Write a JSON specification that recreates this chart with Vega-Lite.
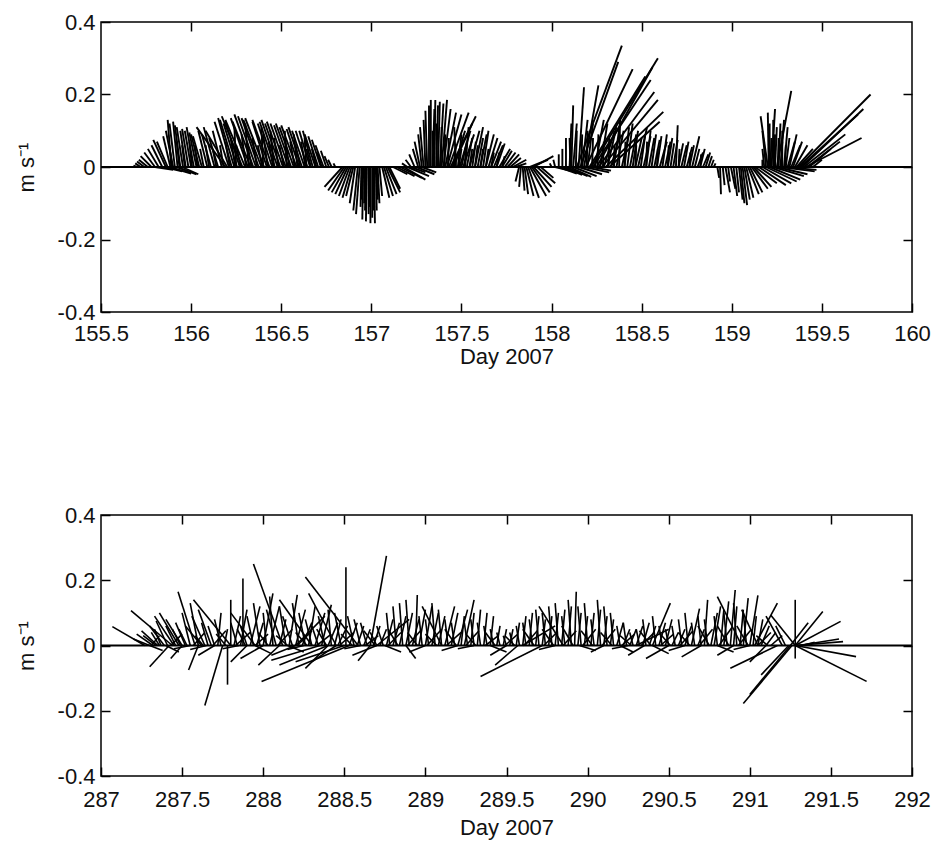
{
"$schema": "https://vega.github.io/schema/vega-lite/v6.json",
"padding": {"left": 14, "top": 10, "right": 20, "bottom": 5},
"config": {
 "view": {"stroke": "#000", "strokeWidth": 1.5},
 "font": "Liberation Sans",
 "axis": {"domain": false, "grid": false, "tickColor": "#000", "tickWidth": 1.5, "tickSize": 9, "offset": -9,
  "labelFlush": false, "labelOverlap": false,
  "labelFont": "Liberation Sans", "labelFontSize": 22, "labelColor": "#111", "labelPadding": 6,
  "titleFont": "Liberation Sans", "titleFontSize": 22, "titleFontWeight": "normal", "titleColor": "#111"}
},
"datasets": {
"top": [
{"t":155.70,"e":155.68,"v":0.004},{"t":155.72,"e":155.69,"v":0.01},{"t":155.74,"e":155.70,"v":0.015},{"t":155.76,"e":155.71,"v":0.02},{"t":155.78,"e":155.72,"v":0.03},{"t":155.80,"e":155.74,"v":0.04},{"t":155.82,"e":155.76,"v":0.05},{"t":155.84,"e":155.78,"v":0.06},{"t":155.86,"e":155.79,"v":0.075},{"t":155.87,"e":155.81,"v":0.07},
{"t":155.80,"e":155.90,"v":-0.008},{"t":155.85,"e":155.95,"v":-0.012},{"t":155.88,"e":156.00,"v":-0.018},{"t":155.92,"e":156.03,"v":-0.02},{"t":155.95,"e":156.04,"v":-0.02},
{"t":155.885,"e":155.845,"v":0.085},{"t":155.89,"e":155.87,"v":0.13},{"t":155.90,"e":155.86,"v":0.10},{"t":155.91,"e":155.88,"v":0.12},{"t":155.925,"e":155.90,"v":0.125},{"t":155.94,"e":155.91,"v":0.115},{"t":155.955,"e":155.92,"v":0.11},{"t":155.97,"e":155.94,"v":0.10},{"t":155.985,"e":155.95,"v":0.105},{"t":156.00,"e":155.965,"v":0.10},{"t":156.015,"e":155.975,"v":0.11},{"t":156.03,"e":155.99,"v":0.095},{"t":156.045,"e":156.00,"v":0.09},{"t":156.06,"e":156.01,"v":0.085},
{"t":155.895,"e":155.88,"v":0.06},{"t":155.935,"e":155.92,"v":0.07},{"t":155.965,"e":155.95,"v":0.06},{"t":156.005,"e":155.99,"v":0.07},{"t":156.035,"e":156.02,"v":0.06},{"t":156.07,"e":156.05,"v":0.05},{"t":156.10,"e":156.08,"v":0.06},{"t":156.14,"e":156.12,"v":0.05},{"t":156.18,"e":156.16,"v":0.06},
{"t":156.09,"e":156.04,"v":0.10},{"t":156.11,"e":156.06,"v":0.09},{"t":156.13,"e":156.07,"v":0.11},{"t":156.15,"e":156.10,"v":0.08},{"t":156.17,"e":156.12,"v":0.10},{"t":156.19,"e":156.03,"v":0.11},{"t":156.20,"e":156.08,"v":0.10},
{"t":156.21,"e":156.13,"v":0.125},{"t":156.225,"e":156.15,"v":0.135},{"t":156.24,"e":156.16,"v":0.13},{"t":156.255,"e":156.18,"v":0.12},{"t":156.27,"e":156.19,"v":0.125},{"t":156.285,"e":156.17,"v":0.14},{"t":156.30,"e":156.19,"v":0.13},{"t":156.315,"e":156.22,"v":0.135},{"t":156.33,"e":156.23,"v":0.125},{"t":156.345,"e":156.24,"v":0.145},{"t":156.36,"e":156.26,"v":0.14},{"t":156.375,"e":156.28,"v":0.135},{"t":156.39,"e":156.29,"v":0.13},{"t":156.405,"e":156.30,"v":0.135},{"t":156.42,"e":156.34,"v":0.125},{"t":156.435,"e":156.34,"v":0.13},{"t":156.45,"e":156.37,"v":0.12},{"t":156.465,"e":156.38,"v":0.125},{"t":156.48,"e":156.39,"v":0.13},{"t":156.495,"e":156.41,"v":0.12},{"t":156.51,"e":156.42,"v":0.125},{"t":156.525,"e":156.44,"v":0.12},{"t":156.54,"e":156.46,"v":0.115},{"t":156.555,"e":156.47,"v":0.12},{"t":156.57,"e":156.49,"v":0.11},{"t":156.585,"e":156.50,"v":0.115},{"t":156.60,"e":156.53,"v":0.105},{"t":156.615,"e":156.54,"v":0.11},{"t":156.63,"e":156.56,"v":0.10},{"t":156.645,"e":156.58,"v":0.10},{"t":156.66,"e":156.60,"v":0.10},{"t":156.675,"e":156.62,"v":0.10},{"t":156.69,"e":156.63,"v":0.09},{"t":156.705,"e":156.65,"v":0.085},{"t":156.72,"e":156.67,"v":0.075},{"t":156.735,"e":156.69,"v":0.06},{"t":156.75,"e":156.72,"v":0.045},{"t":156.765,"e":156.74,"v":0.03},{"t":156.78,"e":156.76,"v":0.02},{"t":156.80,"e":156.79,"v":0.01},
{"t":156.25,"e":156.24,"v":0.11},{"t":156.32,"e":156.30,"v":0.12},{"t":156.40,"e":156.39,"v":0.11},{"t":156.46,"e":156.44,"v":0.10},{"t":156.53,"e":156.52,"v":0.10},{"t":156.59,"e":156.57,"v":0.09},{"t":156.64,"e":156.63,"v":0.08},
{"t":156.215,"e":156.19,"v":0.07},{"t":156.245,"e":156.22,"v":0.08},{"t":156.275,"e":156.25,"v":0.06},{"t":156.305,"e":156.28,"v":0.09},{"t":156.335,"e":156.31,"v":0.07},{"t":156.365,"e":156.34,"v":0.08},{"t":156.395,"e":156.37,"v":0.06},{"t":156.425,"e":156.40,"v":0.09},{"t":156.455,"e":156.43,"v":0.07},{"t":156.485,"e":156.46,"v":0.08},{"t":156.515,"e":156.49,"v":0.06},{"t":156.545,"e":156.52,"v":0.08},{"t":156.575,"e":156.55,"v":0.07},{"t":156.605,"e":156.58,"v":0.06},{"t":156.635,"e":156.61,"v":0.07},{"t":156.665,"e":156.64,"v":0.05},{"t":156.695,"e":156.67,"v":0.05},{"t":156.725,"e":156.70,"v":0.04},
{"t":156.84,"e":156.74,"v":-0.055},{"t":156.85,"e":156.76,"v":-0.065},{"t":156.86,"e":156.78,"v":-0.07},{"t":156.87,"e":156.80,"v":-0.075},{"t":156.88,"e":156.82,"v":-0.08},{"t":156.89,"e":156.84,"v":-0.085},{"t":156.90,"e":156.86,"v":-0.08},{"t":156.91,"e":156.88,"v":-0.10},{"t":156.925,"e":156.90,"v":-0.12},{"t":156.935,"e":156.915,"v":-0.13},{"t":156.945,"e":156.94,"v":-0.11},{"t":156.955,"e":156.95,"v":-0.145},{"t":156.965,"e":156.96,"v":-0.10},{"t":156.975,"e":156.97,"v":-0.15},{"t":156.985,"e":156.985,"v":-0.13},{"t":156.995,"e":156.995,"v":-0.155},{"t":157.005,"e":157.005,"v":-0.14},{"t":157.015,"e":157.02,"v":-0.155},{"t":157.025,"e":157.03,"v":-0.12},{"t":157.035,"e":157.045,"v":-0.10},{"t":157.045,"e":157.06,"v":-0.08},{"t":157.06,"e":157.10,"v":-0.085},{"t":157.07,"e":157.12,"v":-0.08},{"t":157.08,"e":157.14,"v":-0.075},{"t":157.09,"e":157.16,"v":-0.07},{"t":157.10,"e":157.16,"v":-0.06},
{"t":156.95,"e":156.945,"v":-0.09},{"t":156.97,"e":156.965,"v":-0.12},{"t":156.99,"e":156.99,"v":-0.11},{"t":157.01,"e":157.01,"v":-0.12},{"t":157.03,"e":157.035,"v":-0.09},
{"t":157.12,"e":157.20,"v":-0.02},{"t":157.14,"e":157.24,"v":-0.025},{"t":157.16,"e":157.28,"v":-0.03},{"t":157.18,"e":157.30,"v":-0.035},{"t":157.20,"e":157.32,"v":-0.025},{"t":157.22,"e":157.30,"v":-0.015},{"t":157.25,"e":157.35,"v":-0.02},{"t":157.28,"e":157.36,"v":-0.015},
{"t":157.20,"e":157.17,"v":0.01},{"t":157.22,"e":157.19,"v":0.02},{"t":157.24,"e":157.21,"v":0.035},{"t":157.26,"e":157.23,"v":0.05},{"t":157.27,"e":157.24,"v":0.07},{"t":157.28,"e":157.26,"v":0.09},{"t":157.29,"e":157.27,"v":0.11},{"t":157.30,"e":157.29,"v":0.13},{"t":157.31,"e":157.30,"v":0.155},{"t":157.32,"e":157.32,"v":0.17},{"t":157.33,"e":157.33,"v":0.185},{"t":157.34,"e":157.35,"v":0.16},{"t":157.35,"e":157.355,"v":0.185},{"t":157.36,"e":157.37,"v":0.17},{"t":157.37,"e":157.38,"v":0.18},{"t":157.38,"e":157.40,"v":0.175},{"t":157.39,"e":157.42,"v":0.185},{"t":157.40,"e":157.44,"v":0.16},{"t":157.41,"e":157.47,"v":0.15},{"t":157.42,"e":157.50,"v":0.145},{"t":157.43,"e":157.54,"v":0.15},{"t":157.44,"e":157.58,"v":0.14},{"t":157.45,"e":157.56,"v":0.12},{"t":157.46,"e":157.52,"v":0.10},{"t":157.47,"e":157.46,"v":0.11},{"t":157.48,"e":157.50,"v":0.09},{"t":157.49,"e":157.55,"v":0.10},{"t":157.50,"e":157.53,"v":0.07},{"t":157.51,"e":157.57,"v":0.09},{"t":157.52,"e":157.54,"v":0.11},{"t":157.53,"e":157.56,"v":0.08},{"t":157.545,"e":157.60,"v":0.10},{"t":157.56,"e":157.58,"v":0.07},{"t":157.575,"e":157.62,"v":0.11},{"t":157.59,"e":157.62,"v":0.08},{"t":157.605,"e":157.64,"v":0.09},{"t":157.62,"e":157.65,"v":0.10},{"t":157.635,"e":157.68,"v":0.09},{"t":157.65,"e":157.70,"v":0.08},{"t":157.665,"e":157.72,"v":0.07},{"t":157.68,"e":157.73,"v":0.06},{"t":157.695,"e":157.74,"v":0.065},{"t":157.71,"e":157.77,"v":0.05},{"t":157.725,"e":157.78,"v":0.045},{"t":157.74,"e":157.80,"v":0.04},{"t":157.755,"e":157.82,"v":0.035},{"t":157.77,"e":157.83,"v":0.025},{"t":157.785,"e":157.86,"v":0.02},{"t":157.80,"e":157.86,"v":0.01},{"t":157.90,"e":158.01,"v":0.03},{"t":157.88,"e":157.98,"v":0.02},
{"t":157.455,"e":157.47,"v":0.06},{"t":157.485,"e":157.50,"v":0.05},{"t":157.515,"e":157.53,"v":0.06},{"t":157.545,"e":157.56,"v":0.05},{"t":157.575,"e":157.59,"v":0.06},{"t":157.605,"e":157.62,"v":0.05},{"t":157.635,"e":157.65,"v":0.05},{"t":157.665,"e":157.68,"v":0.04},{"t":157.695,"e":157.71,"v":0.04},{"t":157.725,"e":157.74,"v":0.03},{"t":157.345,"e":157.34,"v":0.10},{"t":157.365,"e":157.36,"v":0.12},{"t":157.385,"e":157.39,"v":0.11},{"t":157.405,"e":157.41,"v":0.09},{"t":157.425,"e":157.43,"v":0.08},
{"t":157.82,"e":157.80,"v":-0.04},{"t":157.83,"e":157.82,"v":-0.055},{"t":157.84,"e":157.85,"v":-0.065},{"t":157.85,"e":157.87,"v":-0.075},{"t":157.86,"e":157.90,"v":-0.08},{"t":157.87,"e":157.93,"v":-0.085},{"t":157.88,"e":157.97,"v":-0.08},{"t":157.89,"e":157.99,"v":-0.07},{"t":157.90,"e":158.00,"v":-0.055},{"t":157.92,"e":158.02,"v":-0.045},{"t":157.94,"e":158.01,"v":-0.03},
{"t":158.02,"e":158.10,"v":-0.01},{"t":158.04,"e":158.14,"v":-0.018},{"t":158.06,"e":158.17,"v":-0.022},{"t":158.08,"e":158.20,"v":-0.025},{"t":158.10,"e":158.22,"v":-0.027},{"t":158.12,"e":158.25,"v":-0.025},{"t":158.15,"e":158.28,"v":-0.02},{"t":158.18,"e":158.32,"v":-0.015},{"t":158.22,"e":158.33,"v":-0.01},
{"t":158.00,"e":157.99,"v":0.01},{"t":158.02,"e":158.01,"v":0.02},{"t":158.04,"e":158.04,"v":0.035},{"t":158.06,"e":158.06,"v":0.05},{"t":158.08,"e":158.08,"v":0.08},{"t":158.10,"e":158.11,"v":0.12},{"t":158.11,"e":158.12,"v":0.17},{"t":158.12,"e":158.14,"v":0.12},{"t":158.14,"e":158.39,"v":0.335},{"t":158.15,"e":158.18,"v":0.22},{"t":158.16,"e":158.37,"v":0.29},{"t":158.17,"e":158.20,"v":0.13},{"t":158.18,"e":158.26,"v":0.225},{"t":158.19,"e":158.45,"v":0.27},{"t":158.20,"e":158.23,"v":0.12},{"t":158.21,"e":158.52,"v":0.25},{"t":158.22,"e":158.59,"v":0.30},{"t":158.23,"e":158.55,"v":0.24},{"t":158.24,"e":158.29,"v":0.13},{"t":158.25,"e":158.56,"v":0.275},{"t":158.26,"e":158.57,"v":0.207},{"t":158.27,"e":158.31,"v":0.12},{"t":158.28,"e":158.59,"v":0.185},{"t":158.29,"e":158.35,"v":0.10},{"t":158.30,"e":158.62,"v":0.152},{"t":158.31,"e":158.36,"v":0.11},{"t":158.32,"e":158.60,"v":0.125},{"t":158.33,"e":158.38,"v":0.09},{"t":158.345,"e":158.38,"v":0.12},{"t":158.36,"e":158.40,"v":0.10},{"t":158.375,"e":158.38,"v":0.13},{"t":158.39,"e":158.43,"v":0.09},{"t":158.405,"e":158.43,"v":0.11},{"t":158.42,"e":158.45,"v":0.12},{"t":158.435,"e":158.47,"v":0.09},{"t":158.45,"e":158.48,"v":0.10},{"t":158.465,"e":158.50,"v":0.08},{"t":158.48,"e":158.53,"v":0.11},{"t":158.495,"e":158.52,"v":0.09},{"t":158.51,"e":158.55,"v":0.085},{"t":158.525,"e":158.55,"v":0.10},{"t":158.54,"e":158.57,"v":0.08},{"t":158.555,"e":158.58,"v":0.09},{"t":158.57,"e":158.60,"v":0.075},{"t":158.585,"e":158.61,"v":0.085},{"t":158.60,"e":158.64,"v":0.07},{"t":158.615,"e":158.64,"v":0.09},{"t":158.63,"e":158.66,"v":0.07},{"t":158.645,"e":158.67,"v":0.08},{"t":158.66,"e":158.68,"v":0.065},{"t":158.675,"e":158.70,"v":0.075},{"t":158.69,"e":158.70,"v":0.115},{"t":158.705,"e":158.73,"v":0.065},{"t":158.72,"e":158.75,"v":0.06},{"t":158.735,"e":158.76,"v":0.07},{"t":158.75,"e":158.78,"v":0.055},{"t":158.765,"e":158.79,"v":0.06},{"t":158.78,"e":158.82,"v":0.085},{"t":158.795,"e":158.82,"v":0.05},{"t":158.81,"e":158.84,"v":0.04},{"t":158.825,"e":158.85,"v":0.05},{"t":158.84,"e":158.87,"v":0.035},{"t":158.855,"e":158.88,"v":0.04},{"t":158.87,"e":158.89,"v":0.03},{"t":158.885,"e":158.90,"v":0.02},{"t":158.90,"e":158.91,"v":0.01},
{"t":158.105,"e":158.10,"v":0.08},{"t":158.135,"e":158.14,"v":0.10},{"t":158.165,"e":158.17,"v":0.09},{"t":158.195,"e":158.20,"v":0.10},{"t":158.225,"e":158.23,"v":0.08},{"t":158.255,"e":158.26,"v":0.09},{"t":158.285,"e":158.29,"v":0.07},{"t":158.315,"e":158.32,"v":0.08},{"t":158.345,"e":158.35,"v":0.06},{"t":158.405,"e":158.41,"v":0.07},{"t":158.465,"e":158.47,"v":0.06},{"t":158.525,"e":158.53,"v":0.07},{"t":158.585,"e":158.59,"v":0.05},{"t":158.645,"e":158.65,"v":0.06},{"t":158.705,"e":158.71,"v":0.05},{"t":158.765,"e":158.77,"v":0.04},{"t":158.825,"e":158.83,"v":0.035},
{"t":158.92,"e":158.93,"v":-0.03},{"t":158.935,"e":158.94,"v":-0.075},{"t":158.95,"e":158.96,"v":-0.05},{"t":158.965,"e":158.99,"v":-0.07},{"t":158.98,"e":158.99,"v":-0.04},{"t":158.995,"e":159.02,"v":-0.06},{"t":159.01,"e":159.03,"v":-0.08},{"t":159.025,"e":159.04,"v":-0.07},{"t":159.04,"e":159.06,"v":-0.09},{"t":159.05,"e":159.07,"v":-0.10},{"t":159.06,"e":159.085,"v":-0.105},{"t":159.07,"e":159.10,"v":-0.09},{"t":159.08,"e":159.12,"v":-0.085},{"t":159.09,"e":159.15,"v":-0.075},{"t":159.10,"e":159.17,"v":-0.07},{"t":159.11,"e":159.20,"v":-0.06},{"t":159.12,"e":159.22,"v":-0.055},
{"t":159.13,"e":159.25,"v":-0.045},{"t":159.15,"e":159.30,"v":-0.05},{"t":159.17,"e":159.33,"v":-0.045},{"t":159.19,"e":159.36,"v":-0.04},{"t":159.21,"e":159.38,"v":-0.035},{"t":159.23,"e":159.40,"v":-0.025},{"t":159.25,"e":159.42,"v":-0.02},{"t":159.27,"e":159.46,"v":-0.012},{"t":159.29,"e":159.47,"v":-0.008},
{"t":159.17,"e":159.17,"v":0.02},{"t":159.18,"e":159.17,"v":0.05},{"t":159.19,"e":159.17,"v":0.10},{"t":159.20,"e":159.16,"v":0.14},{"t":159.205,"e":159.20,"v":0.15},{"t":159.21,"e":159.21,"v":0.12},{"t":159.22,"e":159.24,"v":0.16},{"t":159.23,"e":159.23,"v":0.13},{"t":159.24,"e":159.25,"v":0.11},{"t":159.25,"e":159.33,"v":0.21},{"t":159.26,"e":159.27,"v":0.12},{"t":159.27,"e":159.29,"v":0.13},{"t":159.28,"e":159.28,"v":0.10},{"t":159.29,"e":159.31,"v":0.11},{"t":159.30,"e":159.32,"v":0.08},{"t":159.31,"e":159.35,"v":0.07},{"t":159.32,"e":159.36,"v":0.09},{"t":159.33,"e":159.38,"v":0.06},{"t":159.34,"e":159.39,"v":0.07},{"t":159.35,"e":159.42,"v":0.06},{"t":159.36,"e":159.45,"v":0.05},{"t":159.37,"e":159.77,"v":0.20},{"t":159.38,"e":159.70,"v":0.145},{"t":159.39,"e":159.73,"v":0.16},{"t":159.40,"e":159.63,"v":0.09},{"t":159.41,"e":159.72,"v":0.08},{"t":159.42,"e":159.60,"v":0.07},{"t":159.43,"e":159.55,"v":0.05},{"t":159.45,"e":159.50,"v":0.02},
{"t":159.215,"e":159.22,"v":0.08},{"t":159.235,"e":159.24,"v":0.09},{"t":159.255,"e":159.26,"v":0.08},{"t":159.275,"e":159.28,"v":0.07},{"t":159.295,"e":159.30,"v":0.06}
],
"bot": [
{"t":287.27,"e":287.07,"v":0.058},{"t":287.30,"e":287.20,"v":0.02},{"t":287.32,"e":287.22,"v":0.035},{"t":287.34,"e":287.26,"v":0.03},{"t":287.35,"e":287.25,"v":0.045},{"t":287.37,"e":287.33,"v":0.05},{"t":287.39,"e":287.30,"v":0.06},{"t":287.41,"e":287.34,"v":0.075},{"t":287.44,"e":287.185,"v":0.107},{"t":287.45,"e":287.33,"v":0.09},{"t":287.46,"e":287.40,"v":0.06},{"t":287.48,"e":287.36,"v":0.10},{"t":287.50,"e":287.40,"v":0.08},{"t":287.52,"e":287.46,"v":0.07},{"t":287.53,"e":287.48,"v":0.05},{"t":287.55,"e":287.50,"v":0.10},{"t":287.58,"e":287.475,"v":0.165},{"t":287.60,"e":287.55,"v":0.13},{"t":287.62,"e":287.52,"v":0.06},{"t":287.64,"e":287.56,"v":0.09},{"t":287.66,"e":287.62,"v":0.07},{"t":287.68,"e":287.60,"v":0.11},{"t":287.70,"e":287.66,"v":0.06},{"t":287.72,"e":287.74,"v":0.10},{"t":287.74,"e":287.70,"v":0.08},{"t":287.76,"e":287.78,"v":0.05},{"t":287.80,"e":287.57,"v":0.14},{"t":287.80,"e":287.80,"v":0.14},{"t":287.82,"e":287.86,"v":0.09},{"t":287.84,"e":287.80,"v":0.07},{"t":287.86,"e":287.90,"v":0.11},{"t":287.875,"e":287.875,"v":0.205},{"t":287.90,"e":287.86,"v":0.06},{"t":287.92,"e":287.98,"v":0.12},{"t":287.94,"e":287.90,"v":0.09},{"t":287.96,"e":288.00,"v":0.07},{"t":287.98,"e":287.94,"v":0.13},{"t":288.00,"e":288.06,"v":0.16},{"t":288.02,"e":288.00,"v":0.10},{"t":288.04,"e":288.10,"v":0.12},{"t":288.06,"e":288.04,"v":0.15},{"t":288.08,"e":288.02,"v":0.11},{"t":288.10,"e":288.14,"v":0.08},{"t":288.12,"e":287.94,"v":0.25},{"t":288.14,"e":288.10,"v":0.12},{"t":288.16,"e":288.21,"v":0.155},{"t":288.18,"e":288.12,"v":0.09},{"t":288.20,"e":288.26,"v":0.11},{"t":288.22,"e":288.18,"v":0.13},{"t":288.24,"e":288.30,"v":0.07},{"t":288.26,"e":288.22,"v":0.10},{"t":288.28,"e":288.32,"v":0.12},{"t":288.30,"e":288.26,"v":0.08},{"t":288.32,"e":288.38,"v":0.10},{"t":288.34,"e":288.30,"v":0.06},{"t":288.36,"e":288.42,"v":0.125},{"t":288.38,"e":288.34,"v":0.09},{"t":288.40,"e":288.46,"v":0.07},{"t":288.42,"e":288.40,"v":0.11},{"t":288.44,"e":288.48,"v":0.08},{"t":288.46,"e":288.52,"v":0.06},{"t":288.48,"e":288.44,"v":0.10},{"t":288.51,"e":288.51,"v":0.24},{"t":288.53,"e":288.58,"v":0.07},{"t":288.585,"e":288.26,"v":0.21},{"t":288.56,"e":288.52,"v":0.09},{"t":288.58,"e":288.62,"v":0.06},{"t":288.60,"e":288.56,"v":0.08},{"t":288.62,"e":288.66,"v":0.05},{"t":288.64,"e":288.60,"v":0.07},{"t":288.66,"e":288.76,"v":0.275},{"t":288.68,"e":288.72,"v":0.06},{"t":288.70,"e":288.66,"v":0.04},{"t":288.72,"e":288.76,"v":0.05},{"t":288.74,"e":288.70,"v":0.06},{"t":288.76,"e":288.80,"v":0.08},{"t":288.78,"e":288.76,"v":0.10},{"t":288.80,"e":288.84,"v":0.07},{"t":288.82,"e":288.80,"v":0.12},{"t":288.84,"e":288.88,"v":0.09},{"t":288.86,"e":288.84,"v":0.13},{"t":288.88,"e":288.92,"v":0.10},{"t":288.90,"e":288.88,"v":0.14},{"t":288.92,"e":288.96,"v":0.08},{"t":288.94,"e":288.95,"v":0.155},{"t":288.96,"e":289.00,"v":0.11},{"t":288.98,"e":288.96,"v":0.09},{"t":289.00,"e":289.04,"v":0.12},{"t":289.02,"e":289.00,"v":0.08},{"t":289.04,"e":289.08,"v":0.10},{"t":289.06,"e":289.04,"v":0.13},{"t":289.08,"e":289.12,"v":0.09},{"t":289.10,"e":289.08,"v":0.11},{"t":289.12,"e":289.18,"v":0.12},{"t":289.14,"e":289.12,"v":0.08},{"t":289.16,"e":289.20,"v":0.10},{"t":289.18,"e":289.16,"v":0.07},{"t":289.20,"e":289.26,"v":0.11},{"t":289.22,"e":289.24,"v":0.09},{"t":289.24,"e":289.30,"v":0.14},{"t":289.26,"e":289.24,"v":0.07},{"t":289.28,"e":289.30,"v":0.10},{"t":289.30,"e":289.28,"v":0.08},{"t":289.32,"e":289.34,"v":0.11},{"t":289.34,"e":289.32,"v":0.07},{"t":289.36,"e":289.38,"v":0.10},{"t":289.38,"e":289.36,"v":0.06},{"t":289.40,"e":289.42,"v":0.09},{"t":289.42,"e":289.40,"v":0.05},{"t":289.44,"e":289.46,"v":0.06},{"t":289.46,"e":289.44,"v":0.04},{"t":289.48,"e":289.50,"v":0.05},{"t":289.50,"e":289.48,"v":0.03},{"t":289.52,"e":289.54,"v":0.05},{"t":289.54,"e":289.52,"v":0.04},{"t":289.56,"e":289.58,"v":0.07},{"t":289.58,"e":289.56,"v":0.06},{"t":289.60,"e":289.62,"v":0.09},{"t":289.62,"e":289.60,"v":0.07},{"t":289.64,"e":289.66,"v":0.10},{"t":289.66,"e":289.64,"v":0.08},{"t":289.68,"e":289.70,"v":0.09},{"t":289.70,"e":289.68,"v":0.11},{"t":289.72,"e":289.74,"v":0.08},{"t":289.74,"e":289.72,"v":0.10},{"t":289.76,"e":289.78,"v":0.09},{"t":289.78,"e":289.76,"v":0.12},{"t":289.80,"e":289.82,"v":0.10},{"t":289.82,"e":289.80,"v":0.13},{"t":289.84,"e":289.86,"v":0.11},{"t":289.86,"e":289.84,"v":0.09},{"t":289.88,"e":289.90,"v":0.12},{"t":289.90,"e":289.88,"v":0.14},{"t":289.92,"e":289.93,"v":0.165},{"t":289.94,"e":289.96,"v":0.10},{"t":289.96,"e":289.94,"v":0.12},{"t":289.98,"e":290.00,"v":0.09},{"t":290.00,"e":289.98,"v":0.13},{"t":290.02,"e":290.04,"v":0.10},{"t":290.04,"e":290.02,"v":0.08},{"t":290.06,"e":290.08,"v":0.11},{"t":290.08,"e":290.06,"v":0.14},{"t":290.10,"e":290.12,"v":0.09},{"t":290.12,"e":290.10,"v":0.12},{"t":290.14,"e":290.16,"v":0.08},{"t":290.16,"e":290.14,"v":0.10},{"t":290.18,"e":290.22,"v":0.07},{"t":290.20,"e":290.18,"v":0.06},{"t":290.22,"e":290.26,"v":0.05},{"t":290.24,"e":290.22,"v":0.07},{"t":290.26,"e":290.30,"v":0.05},{"t":290.28,"e":290.26,"v":0.04},{"t":290.30,"e":290.34,"v":0.06},{"t":290.32,"e":290.30,"v":0.05},{"t":290.34,"e":290.38,"v":0.07},{"t":290.36,"e":290.34,"v":0.08},{"t":290.38,"e":290.42,"v":0.06},{"t":290.40,"e":290.51,"v":0.13},{"t":290.42,"e":290.40,"v":0.09},{"t":290.44,"e":290.48,"v":0.07},{"t":290.46,"e":290.44,"v":0.06},{"t":290.48,"e":290.52,"v":0.08},{"t":290.50,"e":290.48,"v":0.05},{"t":290.52,"e":290.56,"v":0.04},{"t":290.54,"e":290.52,"v":0.06},{"t":290.56,"e":290.60,"v":0.05},{"t":290.58,"e":290.56,"v":0.08},{"t":290.60,"e":290.64,"v":0.06},{"t":290.62,"e":290.60,"v":0.10},{"t":290.64,"e":290.69,"v":0.113},{"t":290.66,"e":290.64,"v":0.07},{"t":290.68,"e":290.72,"v":0.05},{"t":290.70,"e":290.68,"v":0.09},{"t":290.72,"e":290.74,"v":0.14},{"t":290.74,"e":290.72,"v":0.08},{"t":290.76,"e":290.80,"v":0.10},{"t":290.78,"e":290.82,"v":0.12},{"t":290.80,"e":290.78,"v":0.09},{"t":290.82,"e":290.84,"v":0.11},{"t":290.84,"e":290.87,"v":0.135},{"t":290.86,"e":290.84,"v":0.10},{"t":290.88,"e":290.91,"v":0.17},{"t":290.90,"e":290.92,"v":0.12},{"t":290.92,"e":290.90,"v":0.13},{"t":290.94,"e":290.96,"v":0.11},{"t":290.96,"e":290.99,"v":0.145},{"t":290.98,"e":290.96,"v":0.10},{"t":291.00,"e":291.05,"v":0.154},{"t":291.02,"e":291.04,"v":0.09},{"t":291.03,"e":291.17,"v":0.13},{"t":291.05,"e":291.08,"v":0.08},{"t":291.07,"e":291.12,"v":0.06},{"t":291.10,"e":291.16,"v":0.04},{"t":291.13,"e":291.20,"v":0.03},
{"t":291.28,"e":291.13,"v":0.093},{"t":291.28,"e":291.28,"v":0.14},{"t":291.28,"e":291.45,"v":0.104},{"t":291.28,"e":291.56,"v":0.074},{"t":291.28,"e":291.575,"v":0.012},{"t":291.28,"e":291.655,"v":-0.034},{"t":291.28,"e":291.72,"v":-0.11},{"t":291.28,"e":291.28,"v":-0.04},{"t":291.26,"e":290.96,"v":-0.178},{"t":291.25,"e":291.00,"v":-0.15},{"t":291.24,"e":291.07,"v":-0.09},{"t":291.17,"e":290.88,"v":-0.07},{"t":291.20,"e":291.10,"v":0.09},{"t":291.22,"e":291.16,"v":0.06},{"t":291.30,"e":291.55,"v":0.02},{"t":291.32,"e":291.40,"v":0.01},{"t":291.25,"e":291.36,"v":0.07},
{"t":287.42,"e":287.30,"v":-0.065},{"t":287.50,"e":287.43,"v":-0.04},{"t":287.60,"e":287.54,"v":-0.075},{"t":287.75,"e":287.64,"v":-0.184},{"t":287.78,"e":287.78,"v":-0.12},{"t":287.70,"e":287.60,"v":-0.03},{"t":287.90,"e":287.80,"v":-0.05},{"t":288.00,"e":287.86,"v":-0.04},{"t":288.53,"e":287.99,"v":-0.11},{"t":288.40,"e":288.26,"v":-0.07},{"t":288.66,"e":288.585,"v":-0.047},{"t":288.10,"e":287.97,"v":-0.06},{"t":288.20,"e":288.05,"v":-0.03},{"t":288.45,"e":288.30,"v":-0.05},{"t":288.70,"e":288.55,"v":-0.03},{"t":288.88,"e":288.94,"v":-0.04},{"t":289.72,"e":289.34,"v":-0.095},{"t":289.57,"e":289.43,"v":-0.06},{"t":289.50,"e":289.40,"v":-0.03},{"t":289.00,"e":288.90,"v":-0.02},{"t":289.20,"e":289.10,"v":-0.015},{"t":290.35,"e":290.25,"v":-0.03},{"t":290.50,"e":290.36,"v":-0.04},{"t":290.70,"e":290.58,"v":-0.035},{"t":290.10,"e":290.02,"v":-0.02},{"t":290.90,"e":290.80,"v":-0.03},{"t":291.10,"e":291.00,"v":-0.05},{"t":288.40,"e":288.10,"v":-0.06},{"t":288.50,"e":288.20,"v":-0.05},{"t":288.35,"e":288.05,"v":-0.045},{"t":287.55,"e":287.45,"v":-0.01},{"t":287.65,"e":287.55,"v":-0.012},{"t":287.85,"e":287.75,"v":-0.01},{"t":288.25,"e":288.15,"v":-0.012},{"t":288.60,"e":288.50,"v":-0.01},{"t":289.30,"e":289.20,"v":-0.01},{"t":289.80,"e":289.70,"v":-0.012},{"t":290.25,"e":290.15,"v":-0.01},{"t":290.60,"e":290.50,"v":-0.015},{"t":291.00,"e":290.90,"v":-0.012},
{"t":287.31,"e":287.36,"v":0.03},{"t":287.36,"e":287.31,"v":0.04},{"t":287.43,"e":287.50,"v":0.035},{"t":287.49,"e":287.44,"v":0.05},{"t":287.57,"e":287.64,"v":0.04},{"t":287.63,"e":287.58,"v":0.03},{"t":287.69,"e":287.77,"v":0.045},{"t":287.77,"e":287.71,"v":0.035},{"t":287.83,"e":287.92,"v":0.04},{"t":287.89,"e":287.84,"v":0.05},{"t":287.95,"e":288.03,"v":0.035},{"t":288.03,"e":287.97,"v":0.04},{"t":288.09,"e":288.18,"v":0.05},{"t":288.15,"e":288.08,"v":0.03},{"t":288.21,"e":288.30,"v":0.045},{"t":288.27,"e":288.20,"v":0.04},{"t":288.33,"e":288.42,"v":0.035},{"t":288.39,"e":288.33,"v":0.05},{"t":288.47,"e":288.56,"v":0.04},{"t":288.55,"e":288.48,"v":0.035},{"t":288.63,"e":288.71,"v":0.03},{"t":288.69,"e":288.62,"v":0.045},{"t":288.77,"e":288.85,"v":0.04},{"t":288.83,"e":288.77,"v":0.05},{"t":288.89,"e":288.97,"v":0.045},{"t":288.95,"e":288.89,"v":0.04},{"t":289.01,"e":289.10,"v":0.05},{"t":289.07,"e":289.00,"v":0.035},{"t":289.13,"e":289.22,"v":0.04},{"t":289.19,"e":289.12,"v":0.05},{"t":289.25,"e":289.33,"v":0.045},{"t":289.31,"e":289.25,"v":0.035},{"t":289.37,"e":289.45,"v":0.03},{"t":289.43,"e":289.37,"v":0.04},{"t":289.49,"e":289.57,"v":0.035},{"t":289.55,"e":289.49,"v":0.03},{"t":289.61,"e":289.69,"v":0.045},{"t":289.67,"e":289.60,"v":0.05},{"t":289.73,"e":289.81,"v":0.04},{"t":289.79,"e":289.72,"v":0.05},{"t":289.85,"e":289.93,"v":0.045},{"t":289.91,"e":289.84,"v":0.06},{"t":289.97,"e":290.05,"v":0.05},{"t":290.03,"e":289.96,"v":0.045},{"t":290.09,"e":290.17,"v":0.05},{"t":290.15,"e":290.08,"v":0.04},{"t":290.21,"e":290.29,"v":0.035},{"t":290.27,"e":290.20,"v":0.03},{"t":290.33,"e":290.41,"v":0.04},{"t":290.39,"e":290.32,"v":0.045},{"t":290.45,"e":290.53,"v":0.035},{"t":290.51,"e":290.44,"v":0.04},{"t":290.57,"e":290.65,"v":0.045},{"t":290.63,"e":290.56,"v":0.04},{"t":290.69,"e":290.77,"v":0.05},{"t":290.75,"e":290.68,"v":0.06},{"t":290.81,"e":290.89,"v":0.055},{"t":290.87,"e":290.80,"v":0.06},{"t":290.93,"e":291.01,"v":0.05},{"t":290.99,"e":290.92,"v":0.06},{"t":291.05,"e":291.13,"v":0.04},{"t":291.11,"e":291.04,"v":0.03},
{"t":287.95,"e":287.80,"v":0.10},{"t":288.30,"e":288.10,"v":0.14},{"t":288.45,"e":288.28,"v":0.16},{"t":289.10,"e":288.98,"v":0.12},{"t":289.85,"e":289.70,"v":0.12},{"t":290.95,"e":290.80,"v":0.15},{"t":291.05,"e":290.95,"v":0.11},{"t":288.20,"e":288.38,"v":0.09},{"t":288.70,"e":288.90,"v":0.08},{"t":289.60,"e":289.80,"v":0.06},{"t":290.30,"e":290.50,"v":0.05},
{"t":287.40,"e":287.48,"v":-0.02},{"t":287.95,"e":288.05,"v":-0.025},{"t":288.75,"e":288.85,"v":-0.02},{"t":289.40,"e":289.50,"v":-0.02},{"t":289.95,"e":290.05,"v":-0.015},{"t":290.40,"e":290.50,"v":-0.025},{"t":290.80,"e":290.90,"v":-0.02},{"t":290.20,"e":290.28,"v":-0.02},{"t":288.15,"e":288.25,"v":-0.02},{"t":287.30,"e":287.38,"v":-0.015}
]
},
"spacing": 135,
"vconcat": [
{
 "width": 811, "height": 290,
 "layer": [
  {"data": {"name": "top"},
   "mark": {"type": "rule", "color": "#000", "strokeWidth": 1.9},
   "encoding": {
    "x": {"field": "e", "type": "quantitative", "scale": {"domain": [155.5, 160], "nice": false, "zero": false},
      "axis": {"values": [155.5,156,156.5,157,157.5,158,158.5,159,159.5,160], "format": ".4~g", "title": "Day 2007", "titlePadding": 2, "labelPadding": 11}},
    "x2": {"field": "t"},
    "y": {"field": "v", "type": "quantitative", "scale": {"domain": [-0.4, 0.4], "nice": false},
      "axis": {"values": [-0.4,-0.2,0,0.2,0.4], "labelExpr": "replace(format(datum.value, '.1~f'), '−', '-')", "title": "m s⁻¹", "titlePadding": 19}},
    "y2": {"datum": 0}
   }},
  {"data": {"values": [{"a": 155.5, "b": 160, "z": 0}]},
   "mark": {"type": "rule", "color": "#000", "strokeWidth": 2},
   "encoding": {
    "x": {"field": "a", "type": "quantitative",
      "axis": {"orient": "top", "labels": false, "title": null, "values": [156,156.5,157,157.5,158,158.5,159,159.5]}},
    "x2": {"field": "b"},
    "y": {"field": "z", "type": "quantitative",
      "axis": {"orient": "right", "labels": false, "title": null, "values": [-0.2,0,0.2]}}
   }}
 ],
 "resolve": {"axis": {"x": "independent", "y": "independent"}}
},
{
 "width": 811, "height": 261,
 "layer": [
  {"data": {"name": "bot"},
   "mark": {"type": "rule", "color": "#000", "strokeWidth": 1.6},
   "encoding": {
    "x": {"field": "e", "type": "quantitative", "scale": {"domain": [287, 292], "nice": false, "zero": false},
      "axis": {"values": [287,287.5,288,288.5,289,289.5,290,290.5,291,291.5,292], "format": ".4~g", "title": "Day 2007", "titlePadding": 7, "labelPadding": 13}},
    "x2": {"field": "t"},
    "y": {"field": "v", "type": "quantitative", "scale": {"domain": [-0.4, 0.4], "nice": false},
      "axis": {"values": [-0.4,-0.2,0,0.2,0.4], "labelExpr": "replace(format(datum.value, '.1~f'), '−', '-')", "title": "m s⁻¹", "titlePadding": 19}},
    "y2": {"datum": 0}
   }},
  {"data": {"values": [{"a": 287, "b": 292, "z": 0}]},
   "mark": {"type": "rule", "color": "#000", "strokeWidth": 2},
   "encoding": {
    "x": {"field": "a", "type": "quantitative",
      "axis": {"orient": "top", "labels": false, "title": null, "values": [287.5,288,288.5,289,289.5,290,290.5,291,291.5]}},
    "x2": {"field": "b"},
    "y": {"field": "z", "type": "quantitative",
      "axis": {"orient": "right", "labels": false, "title": null, "values": [-0.2,0,0.2]}}
   }}
 ],
 "resolve": {"axis": {"x": "independent", "y": "independent"}}
}
]
}
